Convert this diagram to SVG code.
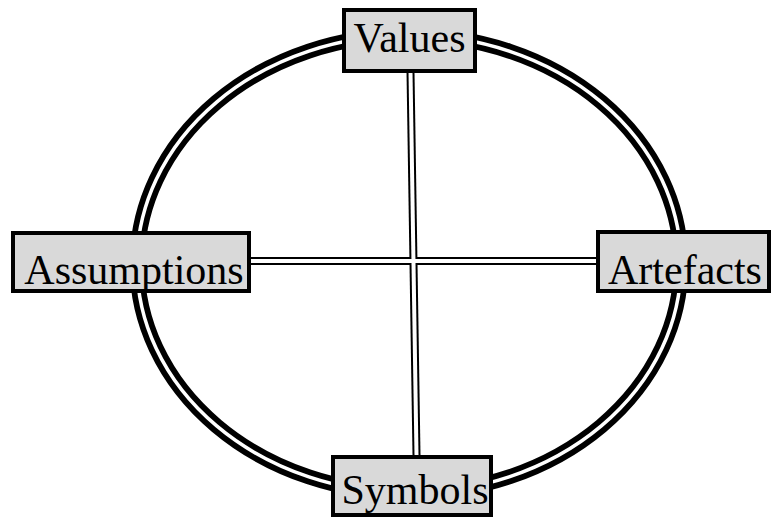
<svg xmlns="http://www.w3.org/2000/svg" width="773" height="520" viewBox="0 0 773 520">
<style>
.ring-b{fill:none;stroke:#000;stroke-width:15}
.ring-w{fill:none;stroke:#fff;stroke-width:3.5}
.line-b{stroke:#000;stroke-width:8;fill:none}
.line-w{stroke:#fff;stroke-width:4;fill:none}
.box{fill:#d9d9d9;stroke:#000;stroke-width:4}
.lbl{font-family:"Liberation Serif","Times New Roman",serif;font-size:42px;fill:#000;text-anchor:middle}
</style>
<rect width="773" height="520" fill="#fff"/>
<g id="connectors">
<ellipse class="ring-b" cx="409" cy="264" rx="272" ry="229"/>
<ellipse class="ring-w" cx="409" cy="264" rx="272" ry="229"/>
<line class="line-b" x1="250" y1="261" x2="598" y2="261"/>
<line class="line-b" x1="410.5" y1="72" x2="416.5" y2="455"/>
<line class="line-w" x1="250" y1="261" x2="598" y2="261"/>
<line class="line-w" x1="410.5" y1="72" x2="416.5" y2="455"/>
</g>
<g id="values">
<rect class="box" x="344" y="10" width="131" height="61"/>
<text class="lbl" x="409.5" y="52">Values</text>
</g>
<g id="assumptions">
<rect class="box" x="13" y="233" width="236" height="58"/>
<text class="lbl" x="134" y="284">Assumptions</text>
</g>
<g id="artefacts">
<rect class="box" x="598" y="232" width="171" height="59"/>
<text class="lbl" x="685" y="284">Artefacts</text>
</g>
<g id="symbols">
<rect class="box" x="333" y="457" width="158" height="58"/>
<text class="lbl" x="415" y="504">Symbols</text>
</g>
</svg>
